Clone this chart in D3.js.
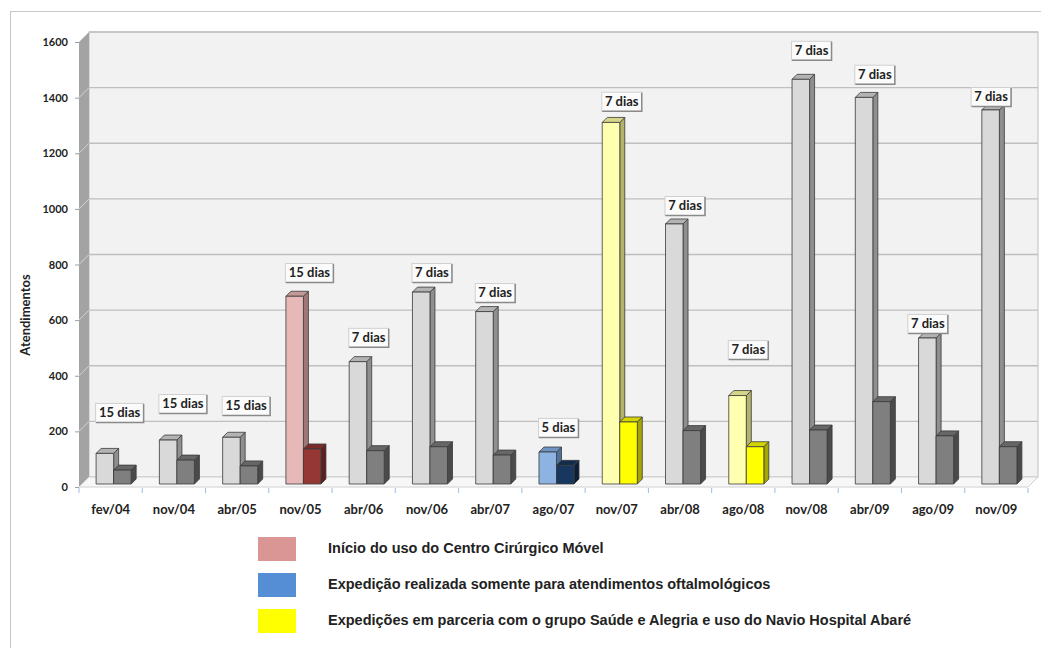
<!DOCTYPE html>
<html>
<head>
<meta charset="utf-8">
<script src="https://cdn.jsdelivr.net/npm/d3@7"></script>
<style>
  body { margin: 0; background: #fff; }
  svg { display: block; }
</style>
</head>
<body>
<script>
// expedition dates, values
const categories = ["fev/04", "nov/04", "abr/05", "nov/05", "abr/06", "nov/06", "abr/07", "ago/07",
                    "nov/07", "abr/08", "ago/08", "nov/08", "abr/09", "ago/09", "nov/09"];
const atendimentos = [110, 158, 168, 675, 440, 690, 620, 115, 1300, 935, 318, 1455, 1390, 525, 1345];
const procedimentos = [50, 86, 65, 126, 120, 134, 104, 67, 223, 192, 134, 194, 296, 173, 134];
const duracao = ["15 dias", "15 dias", "15 dias", "15 dias", "7 dias", "7 dias", "7 dias", "5 dias",
                 "7 dias", "7 dias", "7 dias", "7 dias", "7 dias", "7 dias", "7 dias"];
// value level where each duration label sits
const labelLevel = [234, 266, 259, 737, 504, 737, 665, 180, 1353, 978, 460, 1536, 1450, 554, 1370];
const tipo = ["normal", "normal", "normal", "cirurgico", "normal", "normal", "normal", "oftalmo",
              "abare", "normal", "abare", "normal", "normal", "normal", "normal"];
const yTicks = [0, 200, 400, 600, 800, 1000, 1200, 1400, 1600];
const legendItems = ["Início do uso do Centro Cirúrgico Móvel",
                     "Expedição realizada somente para atendimentos oftalmológicos",
                     "Expedições em parceria com o grupo Saúde e Alegria e uso do Navio Hospital Abaré"];
const legendColors = ["#d99694", "#558ed5", "#ffff00"];

const width = 1041, height = 648;
const wall = 10;      // depth of the walls
const barZ = 3;       // bars stand a bit behind the front plane
const barD = 5;       // depth of each bar

// front, side, top colours
const palette = {
  normal:    [["#d9d9d9", "#8f8f8f", "#b3b3b3"], ["#7f7f7f", "#4a4a4a", "#666666"]],
  cirurgico: [["#e6b9b8", "#a07777", "#c49998"], ["#953735", "#5e1f1e", "#7a2c2a"]],
  oftalmo:   [["#8db3e2", "#4f6f9c", "#6f93c4"], ["#17375e", "#0c1e35", "#122c4c"]],
  abare:     [["#ffffb0", "#b3b36b", "#d6d68a"], ["#ffff00", "#a6a600", "#d4d400"]]
};

const svg = d3.select("body").append("svg")
    .attr("width", width)
    .attr("height", height);

// outer frame
svg.append("rect")
    .attr("x", 10.5).attr("y", 11.5)
    .attr("width", 1100).attr("height", 700)
    .attr("fill", "#fff")
    .attr("stroke", "#c8c8c8");

const x = d3.scaleBand().domain(categories).range([79, 1028]);
const y = d3.scaleLinear().domain([0, 1600]).range([487, 42]);
const x0 = x.range()[0], x1 = x.range()[1];

// back wall
svg.append("rect")
    .attr("x", x0 + wall).attr("y", y(1600) - wall)
    .attr("width", x1 - x0).attr("height", y(0) - y(1600))
    .attr("fill", "#f2f2f2")
    .attr("stroke", "#bfbfbf");

// left wall
svg.append("polygon")
    .attr("points", [[x0, y(0)], [x0 + wall, y(0) - wall], [x0 + wall, y(1600) - wall], [x0, y(1600)]].join(" "))
    .attr("fill", "#a3a3a3");

// floor
svg.append("polygon")
    .attr("points", [[x0, y(0)], [x1, y(0)], [x1 + wall, y(0) - wall], [x0 + wall, y(0) - wall]].join(" "))
    .attr("fill", "#f7f7f7")
    .attr("stroke", "#d0d0d0");

// gridlines
const grid = svg.append("g").attr("class", "grid");
grid.selectAll("line.back")
    .data(yTicks.slice(1))
  .join("line")
    .attr("x1", x0 + wall).attr("x2", x1 + wall)
    .attr("y1", d => y(d) - wall).attr("y2", d => y(d) - wall)
    .attr("stroke", "#bfbfbf").attr("stroke-width", 1.3);
grid.selectAll("line.side")
    .data(yTicks.slice(1))
  .join("line")
    .attr("x1", x0).attr("x2", x0 + wall)
    .attr("y1", d => y(d)).attr("y2", d => y(d) - wall)
    .attr("stroke", "#d4d4d4").attr("stroke-width", 1);

// y axis
const yAxis = svg.append("g")
    .attr("transform", `translate(${x0},0)`)
    .call(d3.axisLeft(y).tickValues(yTicks).tickFormat(d3.format("d")).tickSize(4).tickPadding(7));
yAxis.select(".domain").remove();
yAxis.selectAll(".tick line").attr("stroke", "#a0a0a0");
yAxis.selectAll("text")
    .attr("font-family", "Lato, 'Open Sans', sans-serif")
    .attr("font-weight", "bold")
    .attr("font-size", 11)
    .attr("fill", "#222");

svg.append("text")
    .attr("transform", "translate(30,315) rotate(-90)")
    .attr("text-anchor", "middle")
    .attr("font-family", "Lato, 'Open Sans', sans-serif")
    .attr("font-weight", "bold")
    .attr("font-size", 13)
    .attr("fill", "#222")
    .text("Atendimentos");

// x axis
const xAxis = svg.append("g")
    .attr("transform", `translate(0,${y(0)})`)
    .call(d3.axisBottom(x).tickSize(0).tickPadding(18));
xAxis.select(".domain").remove();
xAxis.selectAll("text")
    .attr("font-family", "Lato, 'Open Sans', sans-serif")
    .attr("font-weight", "bold")
    .attr("font-size", 13)
    .attr("fill", "#222");

// little ticks between categories
svg.append("g").selectAll("line")
    .data(categories.concat(["end"]))
  .join("line")
    .attr("x1", (d, i) => x0 + i * x.bandwidth())
    .attr("x2", (d, i) => x0 + i * x.bandwidth())
    .attr("y1", y(0) + 1).attr("y2", y(0) + 6)
    .attr("stroke", "#9dbde6");

// bars
const barW = x.bandwidth() * 0.277;

function drawBar(g, left, value, cols) {
  const l = left + barZ, r = l + barW;
  const base = y(0) - barZ, top = y(value) - barZ;
  g.append("polygon")
      .attr("points", [[r, base], [r + barD, base - barD], [r + barD, top - barD], [r, top]].join(" "))
      .attr("fill", cols[1]);
  g.append("polygon")
      .attr("points", [[l, top], [l + barD, top - barD], [r + barD, top - barD], [r, top]].join(" "))
      .attr("fill", cols[2]);
  g.append("rect")
      .attr("x", l).attr("y", top)
      .attr("width", barW).attr("height", base - top)
      .attr("fill", cols[0]);
  g.selectAll("*")
      .attr("stroke", "#3a3a3a")
      .attr("stroke-width", 0.8)
      .attr("stroke-linejoin", "round");
}

const bars = svg.append("g").attr("class", "bars");
categories.forEach((c, i) => {
  const center = x(c) + x.bandwidth() / 2;
  const cols = palette[tipo[i]];
  drawBar(bars.append("g"), center - barW, atendimentos[i], cols[0]);
  drawBar(bars.append("g"), center, procedimentos[i], cols[1]);
});

// duration labels
const centeredLabels = ["ago/09", "nov/09"];
const labels = svg.append("g").attr("class", "labels");
categories.forEach((c, i) => {
  const center = x(c) + x.bandwidth() / 2;
  const barLeft = center - barW + barZ;
  const w = duracao[i].length > 6 ? 48 : 40;
  const h = 19;
  const bx = centeredLabels.includes(c) ? barLeft + barW / 2 - w / 2 : barLeft - 1;
  const by = y(labelLevel[i]) - h;
  const g = labels.append("g").attr("transform", `translate(${bx},${by})`);
  g.append("rect")
      .attr("x", 0.5).attr("y", 0.5)
      .attr("width", w).attr("height", h)
      .attr("fill", "#fbfbfb")
      .attr("stroke", "#d0d0d0");
  g.append("path")
      .attr("d", `M${w + 0.5},1 V${h + 0.5} H1`)
      .attr("fill", "none")
      .attr("stroke", "#8a8a8a")
      .attr("stroke-width", 1.5);
  g.append("text")
      .attr("x", w / 2 + 0.5).attr("y", h / 2 + 1)
      .attr("text-anchor", "middle")
      .attr("dominant-baseline", "middle")
      .attr("font-family", "Lato, 'Open Sans', sans-serif")
      .attr("font-weight", "bold")
      .attr("font-size", 13)
      .attr("fill", "#222")
      .text(duracao[i]);
});

// legend
const legend = svg.append("g").attr("class", "legend");
legendItems.forEach((t, i) => {
  const ly = 537 + i * 36;
  legend.append("rect")
      .attr("x", 258).attr("y", ly)
      .attr("width", 38).attr("height", 24)
      .attr("fill", legendColors[i]);
  legend.append("text")
      .attr("x", 328).attr("y", ly + 12)
      .attr("dominant-baseline", "middle")
      .attr("font-family", "'Liberation Sans', Arial, sans-serif")
      .attr("font-weight", "bold")
      .attr("font-size", 14.5)
      .attr("fill", "#222")
      .text(t);
});
</script>
</body>
</html>
